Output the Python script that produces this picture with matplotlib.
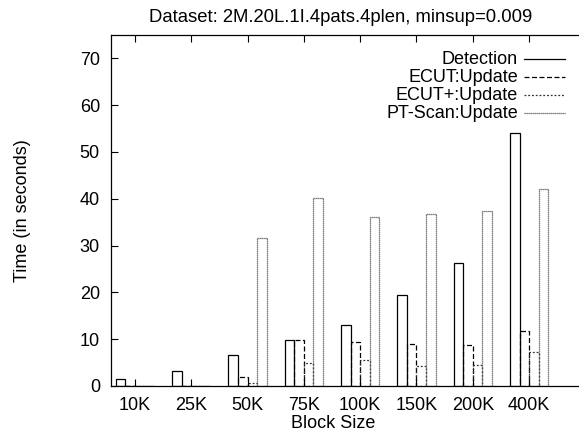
import numpy as np
import matplotlib
matplotlib.use('Agg')
import matplotlib.pyplot as plt
from matplotlib.lines import Line2D

plt.rcParams['font.family'] = ['Liberation Sans', 'DejaVu Sans']

blocks = ['10K', '25K', '50K', '75K', '100K', '150K', '200K', '400K']
detection = [1.4, 3.2, 6.7, 9.9, 13.1, 19.5, 26.2, 54.1]
ecut = [0, 0, 2.0, 9.8, 9.45, 8.9, 8.7, 11.7]
ecut_plus = [0, 0, 0.7, 5.0, 5.5, 4.3, 4.5, 7.25]
ptscan = [0, 0, 31.7, 40.2, 36.1, 36.7, 37.4, 42.2]

series = [('Detection', detection, '-', 'black'),
          ('ECUT:Update', ecut, (0, (4, 2)), 'black'),
          ('ECUT+:Update', ecut_plus, (0, (1.5, 1.5)), '#333333'),
          ('PT-Scan:Update', ptscan, (0, (1, 0.6)), '#555555')]

W, H = 579, 433
fig = plt.figure(figsize=(W / 100, H / 100), dpi=100)

# plot box in pixels (right border runs off the canvas like the scan)
left, top, bottom, right = 111, 35, 386, 600
ax = fig.add_axes([left / W, 1 - bottom / H, (right - left) / W, (bottom - top) / H])

step = 56.3  # px between groups
x0 = 1 - (135 - left) / step
x1 = 1 + (right - 135) / step
ax.set_xlim(x0, x1)
ax.set_ylim(0, 75)

x = np.arange(1, len(blocks) + 1)
bw = 0.17
for i, (name, vals, ls, col) in enumerate(series):
    ax.bar(x + (i - 2) * bw, vals, width=bw, align='edge', fill=False,
           edgecolor=col, linestyle=ls, linewidth=0.9)

fs = 13
ax.set_xticks(x)
ax.set_xticklabels(blocks)
ax.set_yticks(np.arange(0, 80, 10))
ax.tick_params(direction='in', length=5, width=0.8, top=True, right=False,
               labelsize=fs)
ax.tick_params(axis='x', pad=8)
ax.tick_params(axis='y', pad=8)
for s in ax.spines.values():
    s.set_linewidth(0.9)

ax.set_xlabel('Block Size', fontsize=fs)
ax.xaxis.set_label_coords((333 - left) / (right - left), -(415 - bottom) / (bottom - top))
ax.set_ylabel('Time (in seconds)', fontsize=fs)
ax.yaxis.set_label_coords(-(left - 31) / (right - left), 0.5)

fig.text(341 / W, 1 - 17 / H, 'Dataset: 2M.20L.1I.4pats.4plen, minsup=0.009',
         ha='center', va='center', fontsize=13.3)

# key, gnuplot style: text then line sample
for j, (name, vals, ls, col) in enumerate(series):
    yk = 1 - (59 + j * 18) / H
    fig.text(518 / W, yk, name, ha='right', va='center', fontsize=fs)
    fig.add_artist(Line2D([524 / W, 565 / W], [yk, yk], transform=fig.transFigure,
                          color=col, linestyle=ls, linewidth=0.9))

fig.savefig('out.png', dpi=100)
